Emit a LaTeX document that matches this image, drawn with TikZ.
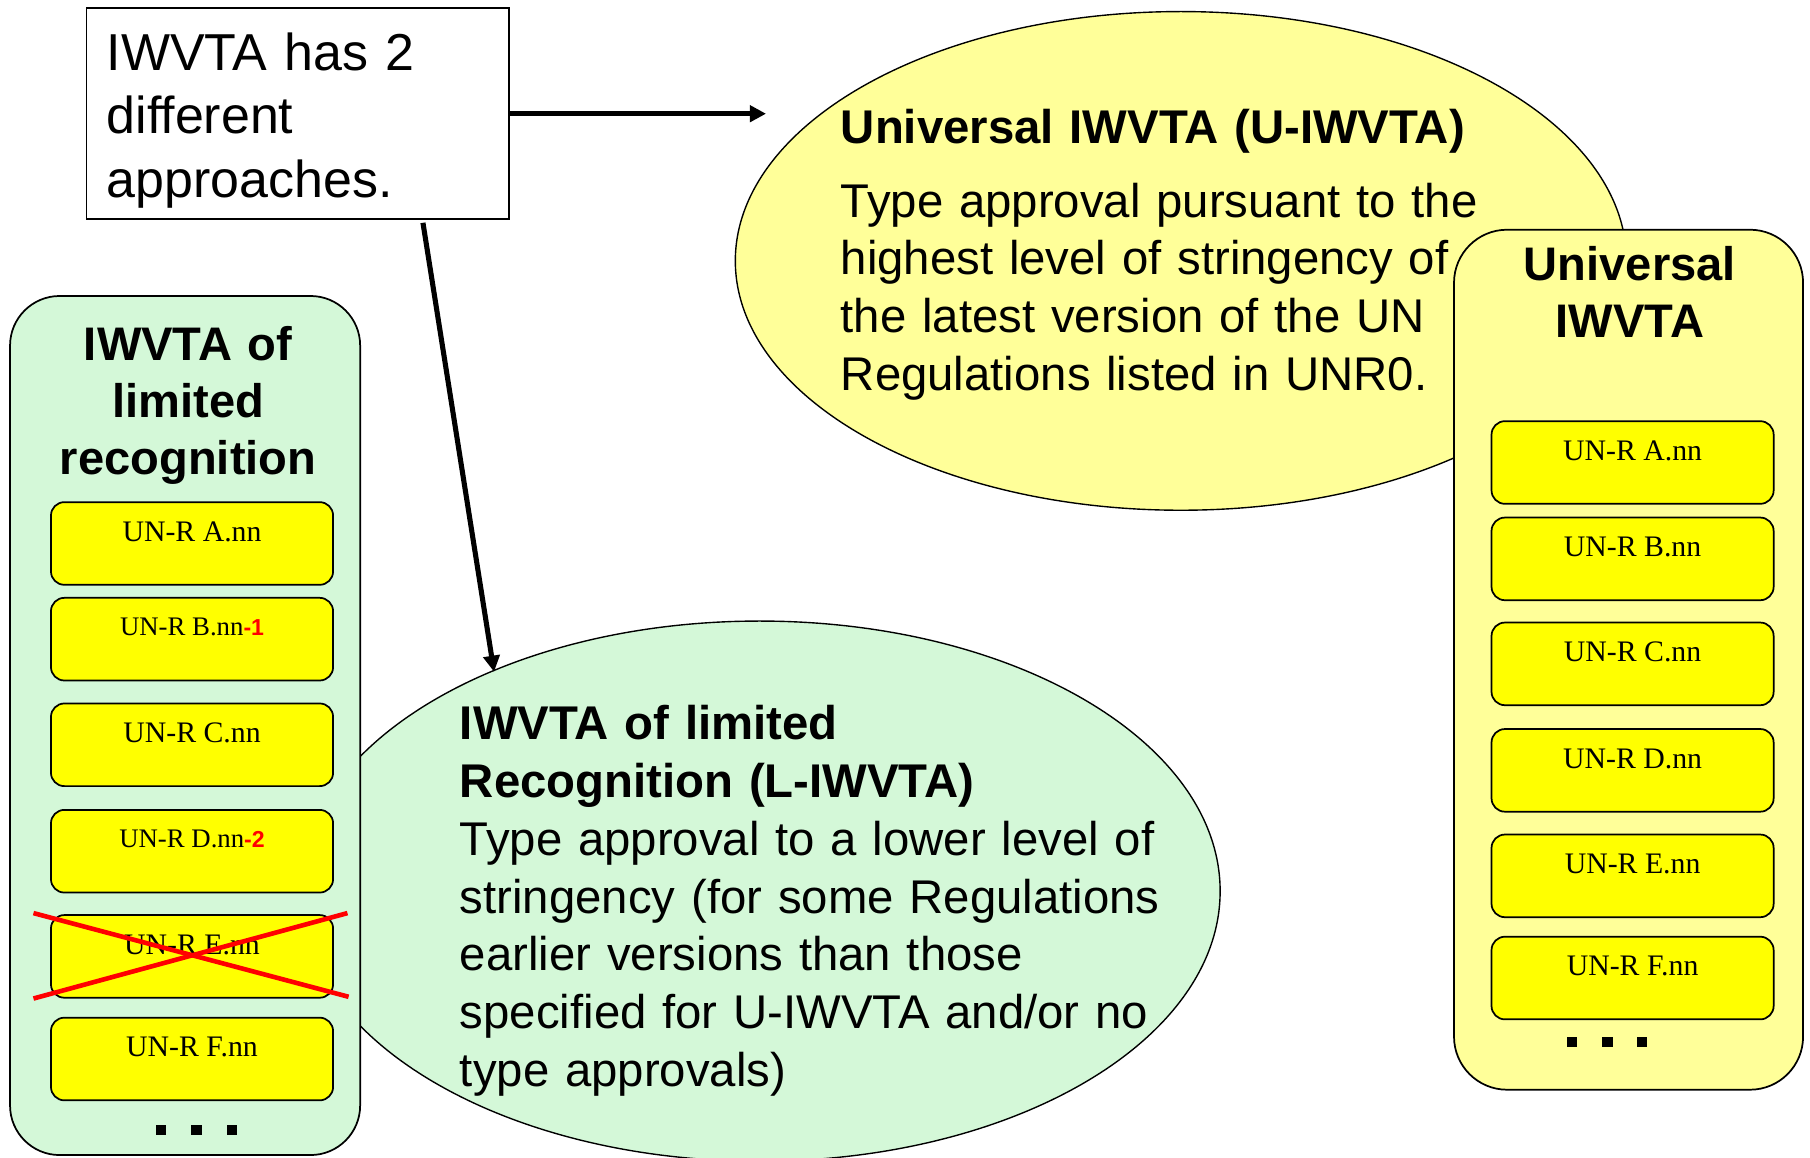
\documentclass[tikz,border=0pt]{standalone}
\usepackage{fontspec}
\setmainfont{Liberation Serif}
\setsansfont{Liberation Sans}
\usetikzlibrary{shapes.geometric,arrows.meta}
\definecolor{lgreen}{RGB}{212,248,216}
\definecolor{lyellow}{RGB}{255,255,153}
\definecolor{byellow}{RGB}{255,255,0}
\begin{document}
\begin{tikzpicture}[x=0.5pt,y=-0.5pt,
 bigell/.style={ellipse,draw=black,line width=0.6pt,inner sep=0pt},
 panel/.style={rectangle,draw=black,line width=0.75pt,inner sep=0pt},
 regbox/.style={rectangle,draw=black,line width=0.75pt,fill=byellow,rounded corners=5.8pt,inner sep=0pt,minimum width=122.2pt,minimum height=35.8pt},
 reglabel/.style={anchor=base,inner sep=0pt,yshift=0.9pt,font=\fontsize{12.9}{15}\selectfont},
 smalllabel/.style={anchor=base,inner sep=0pt,yshift=1.5pt,font=\fontsize{11.6}{14}\selectfont},
 redtag/.style={},
 hdr/.style={anchor=base,inner sep=0pt,align=center,text width=150pt,font=\sffamily\bfseries\fontsize{20.4}{24.8}\selectfont},
 bodytxt/.style={anchor=base west,inner sep=0pt,align=left,font=\sffamily\fontsize{20.5}{25}\selectfont},
 conn/.style={line width=2.2pt,-{Triangle[length=7pt,width=7pt]}},
 crossline/.style={red,line width=2pt}
]
\newcommand{\redpart}[1]{\textcolor{red}{\sffamily\bfseries\fontsize{10}{12}\selectfont #1}}
\useasboundingbox (0,0) rectangle (1568,1003);

% big ellipses
\node[bigell,fill=lgreen,minimum width=399pt,minimum height=234pt] (lell) at (658,772) {};
\node[bigell,fill=lyellow,minimum width=386pt,minimum height=216pt] (uell) at (1023,226) {};

% ellipse texts
\node[bodytxt,text width=300pt] (utxt) at (728,124)
 {\textbf{Universal IWVTA (U-IWVTA)}\\[7pt]
  Type approval pursuant to the\\
  highest level of stringency of\\
  the latest version of the UN\\
  Regulations listed in UNR0.};
\node[bodytxt,text width=320pt] (ltxt) at (398,641)
 {\textbf{IWVTA of limited}\\
  \textbf{Recognition (L-IWVTA)}\\
  Type approval to a lower level of\\
  stringency (for some Regulations\\
  earlier versions than those\\
  specified for U-IWVTA and/or no\\
  type approvals)};

% top box
\node[draw=black,line width=0.75pt,fill=white,minimum width=183pt,minimum height=91.5pt,inner sep=0pt] (topbox) at (258,98.5) {};
\node[anchor=base west,inner sep=0pt,align=left,text width=170pt,font=\sffamily\fontsize{22.5}{27.5}\selectfont] (toptxt) at (92,61)
 {IWVTA has 2\\different\\approaches.};

% panels
\node[panel,fill=lgreen,rounded corners=21.5pt,minimum width=151.65pt,minimum height=372.1pt] (lpanel) at (160.35,628.5) {};
\node[panel,fill=lyellow,rounded corners=23pt,minimum width=151.2pt,minimum height=372.5pt] (rpanel) at (1410.8,571.5) {};
\node[hdr] (ltitle) at (163,312) {IWVTA of\\limited\\recognition};
\node[hdr] (rtitle) at (1412,242.6) {Universal\\IWVTA};

% left regulation boxes
\node[regbox] (la) at (166.35,470.8) {};
\node[regbox] (lb) at (166.35,553.7) {};
\node[regbox] (lc) at (166.35,645.2) {};
\node[regbox] (ld) at (166.35,737.4) {};
\node[regbox] (le) at (166.35,828.5) {};
\node[regbox] (lf) at (166.35,917.4) {};
\node[reglabel] (lat) at (la.center) {UN-R A.nn};
\node[smalllabel] (lbt) at (lb.center) {UN-R B.nn\redpart{-1}};
\node[reglabel] (lct) at (lc.center) {UN-R C.nn};
\node[smalllabel] (ldt) at (ld.center) {UN-R D.nn\redpart{-2}};
\node[reglabel] (let) at (le.center) {UN-R E.nn};
\node[reglabel] (lft) at (lf.center) {UN-R F.nn};

% right regulation boxes
\node[regbox] (ra) at (1414.3,400.65) {};
\node[regbox] (rb) at (1414.3,484.15) {};
\node[regbox] (rc) at (1414.3,575.1) {};
\node[regbox] (rd) at (1414.3,667.35) {};
\node[regbox] (re) at (1414.3,758.75) {};
\node[regbox] (rf) at (1414.3,847.25) {};
\node[reglabel] (rat) at (ra.center) {UN-R A.nn};
\node[reglabel] (rbt) at (rb.center) {UN-R B.nn};
\node[reglabel] (rct) at (rc.center) {UN-R C.nn};
\node[reglabel] (rdt) at (rd.center) {UN-R D.nn};
\node[reglabel] (ret) at (re.center) {UN-R E.nn};
\node[reglabel] (rft) at (rf.center) {UN-R F.nn};

% red cross over E
\draw[crossline] (29,791) -- (302,863.5);
\draw[crossline] (29,865) -- (301,791);

% dots
\foreach \cx in {139.3,170.1,201}{\fill (\cx-4.5,974.6) rectangle (\cx+4.5,983.3);}
\foreach \cx in {1361.6,1392.5,1422.8}{\fill (\cx-4.4,898.7) rectangle (\cx+4.4,906.7);}

% connectors
\coordinate (u1) at (663.6,98.5);
\coordinate (s2) at (366.4,193);
\coordinate (t2) at (428,582);
\draw[conn] (topbox.east) -- (u1);
\draw[conn] (s2) -- (t2);
\end{tikzpicture}
\end{document}
